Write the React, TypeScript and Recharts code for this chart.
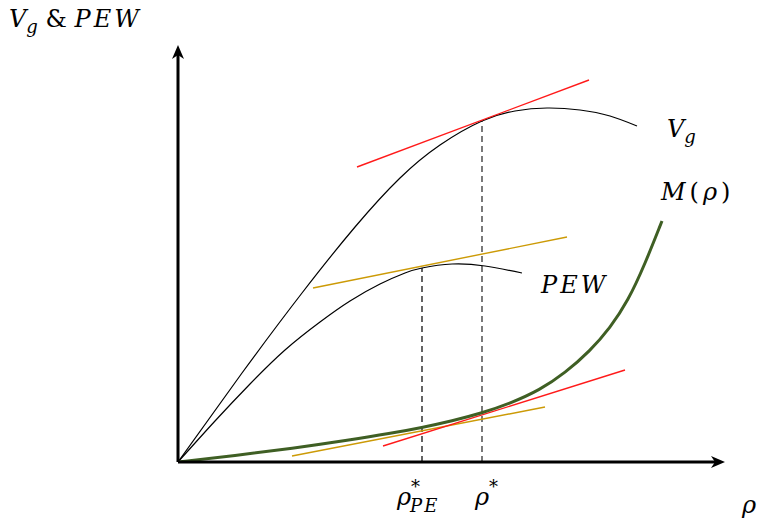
import React from 'react';
import { ComposedChart, Line, XAxis, YAxis, ReferenceLine } from 'recharts';

// conceptual diagram, units are arbitrary
const vgCurve = [
  { x: 0, y: 0 }, { x: 64, y: 89 }, { x: 124, y: 169 }, { x: 177, y: 235 },
  { x: 222, y: 284 }, { x: 262, y: 317 }, { x: 304, y: 341 }, { x: 337, y: 351 },
  { x: 369, y: 354 }, { x: 402, y: 352 }, { x: 432, y: 346 }, { x: 459, y: 336 },
];
const pewCurve = [
  { x: 0, y: 0 }, { x: 37, y: 41 }, { x: 72, y: 78 }, { x: 107, y: 112 },
  { x: 142, y: 140 }, { x: 172, y: 161 }, { x: 202, y: 178 }, { x: 227, y: 189 },
  { x: 244, y: 194 }, { x: 274, y: 198 }, { x: 307, y: 196 }, { x: 344, y: 189 },
];
const mCurve = [
  { x: 0, y: 0 }, { x: 57, y: 6.5 }, { x: 114, y: 13.5 }, { x: 172, y: 22 },
  { x: 212, y: 28.5 }, { x: 244, y: 34.5 }, { x: 274, y: 41 }, { x: 304, y: 49 },
  { x: 332, y: 58.5 }, { x: 362, y: 72 }, { x: 387, y: 89 }, { x: 412, y: 111 },
  { x: 432, y: 134 }, { x: 450, y: 161 }, { x: 467, y: 198 }, { x: 484, y: 241 },
];
const vgTangent = [{ x: 179, y: 295 }, { x: 411, y: 382 }];
const pewTangent = [{ x: 135, y: 174 }, { x: 389, y: 225 }];
const mTangentRed = [{ x: 205, y: 16 }, { x: 447, y: 92 }];
const mTangentOrange = [{ x: 114, y: 6 }, { x: 367, y: 55 }];
const rhoStarDrop = [{ x: 304, y: 0 }, { x: 304, y: 341 }];
const rhoPeDrop = [{ x: 244, y: 0 }, { x: 244, y: 194 }];

const X_MAX = 547;
const Y_MAX = 417;

const RED = '#ff1a1a';
const ORANGE = '#cc9a06';
const GREEN = '#3f5f24';
const MATH_FONT = '"DejaVu Serif", serif';

const Arrow = (props: any) => {
  const { x1, y1, x2, y2 } = props;
  const dx = x2 - x1;
  const dy = y2 - y1;
  const len = Math.hypot(dx, dy) || 1;
  const ux = dx / len;
  const uy = dy / len;
  const head = 14;
  const half = 6;
  const bx = x2 - ux * head;
  const by = y2 - uy * head;
  const px = -uy;
  const py = ux;
  return (
    <g>
      <line x1={x1} y1={y1} x2={bx + ux * 4} y2={by + uy * 4} stroke="#000" strokeWidth={3} />
      <polygon
        points={`${x2},${y2} ${bx + px * half},${by + py * half} ${bx + ux * 4},${by + uy * 4} ${bx - px * half},${by - py * half}`}
        fill="#000"
      />
    </g>
  );
};

const Labels = () => (
  <svg
    width={762}
    height={524}
    style={{ position: 'absolute', left: 0, top: 0, pointerEvents: 'none' }}
    fontFamily={MATH_FONT}
    fontStyle="italic"
    fontSize={24}
    fill="#000"
  >
    <text x={9} y={27}>
      V<tspan fontSize={18} dy={6}>g</tspan>
      <tspan dy={-6} fontStyle="normal"> &amp; </tspan>
      <tspan letterSpacing={3}>PEW</tspan>
    </text>
    <text x={667} y={137}>
      V<tspan fontSize={18} dy={6}>g</tspan>
    </text>
    <text x={661} y={200} letterSpacing={4}>
      M<tspan fontStyle="normal">(</tspan>ρ<tspan fontStyle="normal">)</tspan>
    </text>
    <text x={541} y={293} letterSpacing={3}>PEW</text>
    <text x={397} y={505}>
      ρ<tspan fontSize={18} dy={-12} fontStyle="normal">*</tspan>
      <tspan fontSize={18} dx={-10} dy={19} letterSpacing={2}>PE</tspan>
    </text>
    <text x={475} y={505}>
      ρ<tspan fontSize={18} dy={-12} fontStyle="normal">*</tspan>
    </text>
    <text x={742} y={513}>ρ</text>
  </svg>
);

export default function App() {
  return (
    <div style={{ position: 'absolute', left: 0, top: 0, width: 762, height: 524, background: '#fff' }}>
      <ComposedChart
        width={762}
        height={524}
        margin={{ top: 45, right: 762 - 725, bottom: 524 - 462, left: 178 }}
      >
        <XAxis type="number" dataKey="x" domain={[0, X_MAX]} hide allowDataOverflow />
        <YAxis type="number" dataKey="y" domain={[0, Y_MAX]} hide allowDataOverflow />

        <Line data={rhoStarDrop} dataKey="y" type="linear" stroke="#333" strokeWidth={1.3} strokeDasharray="6 4" dot={false} isAnimationActive={false} />
        <Line data={rhoPeDrop} dataKey="y" type="linear" stroke="#111" strokeWidth={1.3} strokeDasharray="6 4" dot={false} isAnimationActive={false} />

        <Line data={vgCurve} dataKey="y" type="natural" stroke="#000" strokeWidth={1.2} dot={false} isAnimationActive={false} />
        <Line data={pewCurve} dataKey="y" type="natural" stroke="#000" strokeWidth={1.2} dot={false} isAnimationActive={false} />

        <Line data={vgTangent} dataKey="y" type="linear" stroke={RED} strokeWidth={1.4} dot={false} isAnimationActive={false} />
        <Line data={pewTangent} dataKey="y" type="linear" stroke={ORANGE} strokeWidth={1.4} dot={false} isAnimationActive={false} />
        <Line data={mTangentOrange} dataKey="y" type="linear" stroke={ORANGE} strokeWidth={1.4} dot={false} isAnimationActive={false} />
        <Line data={mTangentRed} dataKey="y" type="linear" stroke={RED} strokeWidth={1.4} dot={false} isAnimationActive={false} />

        <Line data={mCurve} dataKey="y" type="basis" stroke={GREEN} strokeWidth={3} dot={false} isAnimationActive={false} />

        <ReferenceLine segment={[{ x: 0, y: 0 }, { x: X_MAX, y: 0 }]} shape={Arrow} ifOverflow="visible" />
        <ReferenceLine segment={[{ x: 0, y: 0 }, { x: 0, y: Y_MAX }]} shape={Arrow} ifOverflow="visible" />
      </ComposedChart>
      <Labels />
    </div>
  );
}
